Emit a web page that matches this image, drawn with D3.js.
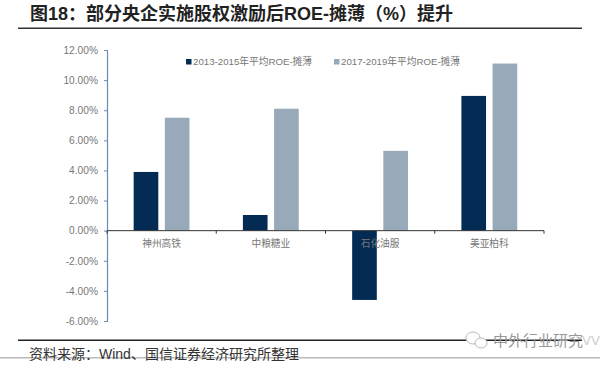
<!DOCTYPE html>
<html>
<head>
<meta charset="utf-8">
<style>
  html, body { margin: 0; padding: 0; background: #fff; }
  text { font-family: "Liberation Sans", "Noto Sans CJK SC", sans-serif; }
</style>
</head>
<body>
<svg width="600" height="365"></svg>
<script src="https://cdn.jsdelivr.net/npm/d3@7"></script>
<script>
var categories = ["神州高铁", "中粮糖业", "石化油服", "美亚柏科"];
var seriesNames = ["2013-2015年平均ROE-摊薄", "2017-2019年平均ROE-摊薄"];
var values1 = [3.9, 1.04, -4.6, 8.95];
var values2 = [7.5, 8.1, 5.3, 11.1];
var yTicks = [12, 10, 8, 6, 4, 2, 0, -2, -4, -6];
var colors = ["#032b54", "#98a9b9"];

var svg = d3.select("svg"),
    margin = { top: 50, right: 56, bottom: 44, left: 107 },
    width = 600 - margin.left - margin.right,
    height = 365 - margin.top - margin.bottom;

var x = d3.scaleBand().domain(categories).range([0, width]);
var xInner = d3.scaleBand().domain([0, 1]).range([x.bandwidth() * 0.244, x.bandwidth() * 0.755]).paddingInner(0.21);
var y = d3.scaleLinear().domain([-6, 12]).range([height, 0]);

var g = svg.append("g")
    .attr("transform", "translate(" + margin.left + "," + margin.top + ")");

// title and rules
svg.append("text").attr("x", 30).attr("y", 20)
    .style("font-size", "18px").style("font-weight", "bold").attr("fill", "#222")
    .text("图18：部分央企实施股权激励后ROE-摊薄（%）提升");
svg.append("rect").attr("x", 18).attr("y", 27.5).attr("width", 564).attr("height", 1.5).attr("fill", "#333");
svg.append("rect").attr("x", 18).attr("y", 339.5).attr("width", 564).attr("height", 1.5).attr("fill", "#222");
svg.append("rect").attr("x", 0).attr("y", 357).attr("width", 600).attr("height", 1.5).attr("fill", "#bbb");
svg.append("text").attr("x", 29).attr("y", 359)
    .style("font-size", "14px").attr("fill", "#333")
    .text("资料来源：Wind、国信证券经济研究所整理");

// bars
[values1, values2].forEach(function (vals, i) {
    g.selectAll(".bar" + i)
        .data(vals)
        .enter().append("rect")
        .attr("class", "bar" + i)
        .attr("x", function (d, j) { return x(categories[j]) + xInner(i); })
        .attr("y", function (d) { return y(Math.max(d, 0)); })
        .attr("width", xInner.bandwidth())
        .attr("height", function (d) { return Math.abs(y(d) - y(0)); })
        .attr("fill", colors[i]);
});

// y axis
var yAxis = g.append("g")
    .call(d3.axisLeft(y).tickValues(yTicks).tickSize(3).tickFormat(function (d) { return d.toFixed(2) + "%"; }));
yAxis.select(".domain").attr("stroke", "#6a8db5").attr("stroke-width", 1.2);
yAxis.selectAll(".tick line").attr("stroke", "#6a8db5");
yAxis.selectAll("text").attr("fill", "#777").attr("x", -9)
    .style("font-size", "10.2px").style("font-family", "'Liberation Sans'");

// x axis with ticks between the categories
var xAxisG = g.append("g").attr("transform", "translate(0," + y(0) + ")");
xAxisG.append("line").attr("x1", 0).attr("x2", width).attr("stroke", "#333").attr("stroke-width", 1);
xAxisG.selectAll(".sep")
    .data(d3.range(categories.length + 1))
    .enter().append("line")
    .attr("x1", function (d) { return d * x.step(); })
    .attr("x2", function (d) { return d * x.step(); })
    .attr("y1", 0).attr("y2", 3)
    .attr("stroke", "#333");
xAxisG.selectAll(".cat")
    .data(categories)
    .enter().append("text")
    .attr("x", function (d) { return x(d) + x.bandwidth() / 2; })
    .attr("y", 16)
    .attr("text-anchor", "middle")
    .attr("fill", "#777")
    .style("font-size", "9.7px")
    .text(function (d) { return d; });

// legend
var legendX = [186, 334];
seriesNames.forEach(function (name, i) {
    svg.append("rect").attr("x", legendX[i]).attr("y", 59).attr("width", 5.5).attr("height", 5.5).attr("fill", colors[i]);
    svg.append("text").attr("x", legendX[i] + 7).attr("y", 65)
        .style("font-size", "9.7px").attr("fill", "#777").text(name);
});

// watermark
svg.append("text").attr("x", 493).attr("y", 346)
    .style("font-size", "15px").attr("fill", "#999").text("中外行业研究");
svg.append("text").attr("x", 582).attr("y", 345)
    .style("font-size", "13.5px").attr("fill", "#ccc").text("VV");
var wm = svg.append("g").attr("fill", "#fff").attr("stroke", "#bbb");
wm.append("ellipse").attr("cx", 473).attr("cy", 338).attr("rx", 7).attr("ry", 6);
wm.append("ellipse").attr("cx", 481).attr("cy", 343).attr("rx", 6).attr("ry", 5);
</script>
</body>
</html>
